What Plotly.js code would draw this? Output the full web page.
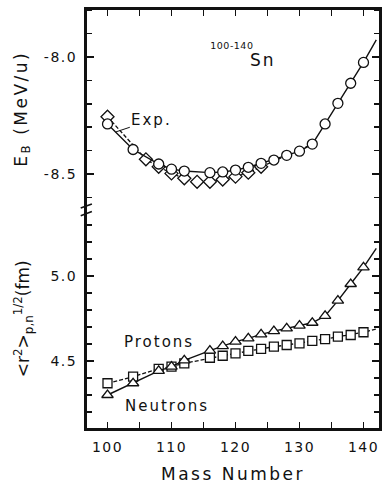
<!DOCTYPE html>
<html>
<head>
<meta charset="utf-8">
<script src="https://cdn.plot.ly/plotly-3.0.1.min.js"></script>
<style>
  html, body { margin: 0; padding: 0; background: #fff; }
  #chart { width: 386px; height: 484px; }
  .xtick text, .ytick text, .y2tick text { letter-spacing: 1.5px; }
  .xtitle, .ytitle { letter-spacing: 2.5px; }
  .annotation-text { letter-spacing: 2px; }
  .annotation[data-index="0"] .annotation-text { letter-spacing: 0.5px; }
</style>
</head>
<body>
<div id="chart"></div>
<script>
// ---- Binding energy per nucleon (top panel) ----
const massTheory = [100,104,108,110,112,116,118,120,122,124,126,128,130,132,134,136,138,140,142];
const ebTheory   = [-8.286,-8.395,-8.457,-8.479,-8.487,-8.494,-8.491,-8.483,-8.471,-8.454,-8.440,-8.420,-8.402,-8.372,-8.286,-8.198,-8.112,-8.023,-7.927];

const massExp = [100,106,108,110,112,114,116,118,120,122,124,126,128,130,132];
const ebExp   = [-8.255,-8.437,-8.469,-8.497,-8.518,-8.533,-8.533,-8.523,-8.511,-8.494,-8.469,-8.443,-8.420,-8.400,-8.370];

// ---- rms radii (bottom panel) ----
const massRadius = [100,104,108,110,112,116,118,120,122,124,126,128,130,132,134,136,138,140,142];
const rNeutrons  = [4.300,4.369,4.442,4.467,4.504,4.561,4.588,4.614,4.633,4.657,4.676,4.692,4.708,4.725,4.765,4.855,4.953,5.051,5.163];
const rProtons   = [4.369,4.408,4.454,4.467,4.486,4.519,4.531,4.545,4.559,4.571,4.584,4.594,4.604,4.618,4.629,4.643,4.653,4.669,4.688];

// ---- axis ticks ----
const xTickVals = [100,110,120,130,140];
const ebTickVals = [-8.5,-8.0];
const ebTickText = ['-8.5','-8.0'];
const rTickVals = [4.5,5.0];
const rTickText = ['4.5','5.0'];

const lastMarked = 140;    // curves continue past the last computed marker
const lastExpMarked = 124; // beyond this the exp. diamonds lie under the circles

const FONT = 'DejaVu Sans, Liberation Sans, sans-serif';
const INK = '#111';

function sizes(xs, limit, s) { return xs.map(v => v <= limit ? s : 0); }

function markerStyle(symbol, xs, limit, s) {
  return {symbol: symbol, size: sizes(xs, limit, s), opacity: 1, color: '#fff',
          line: {color: INK, width: 1.3}};
}

const traces = [
  {
    x: massExp, y: ebExp, xaxis: 'x2', yaxis: 'y', mode: 'lines+markers',
    line: {color: INK, width: 1.3, dash: '4px,2px'},
    marker: markerStyle('diamond', massExp, lastExpMarked, 10),
    hoverinfo: 'skip', showlegend: false
  },
  {
    x: massTheory, y: ebTheory, xaxis: 'x2', yaxis: 'y', mode: 'lines+markers',
    line: {color: INK, width: 1.4},
    marker: markerStyle('circle', massTheory, lastMarked, 10),
    hoverinfo: 'skip', showlegend: false
  },
  {
    x: massRadius, y: rProtons, xaxis: 'x', yaxis: 'y2', mode: 'lines+markers',
    line: {color: INK, width: 1.3, dash: '4px,2px'},
    marker: markerStyle('square', massRadius, lastMarked, 9),
    hoverinfo: 'skip', showlegend: false
  },
  {
    x: massRadius, y: rNeutrons, xaxis: 'x', yaxis: 'y2', mode: 'lines+markers',
    line: {color: INK, width: 1.4},
    marker: markerStyle('triangle-up', massRadius, lastMarked, 10),
    hoverinfo: 'skip', showlegend: false
  }
];

const tickFont = {family: FONT, size: 14, color: INK};

const xCommon = {
  range: [96.64, 142.58],
  tickvals: xTickVals,
  ticks: 'inside', ticklen: 7, tickwidth: 1.6, tickcolor: INK,
  minor: {dtick: 5, tick0: 100, ticks: 'inside', ticklen: 7, tickwidth: 1.6, tickcolor: INK},
  showgrid: false, zeroline: false, showline: true, linewidth: 2, linecolor: INK,
  tickfont: tickFont
};

const yCommon = {
  ticks: 'inside', ticklen: 8, tickwidth: 1.6, tickcolor: INK,
  minor: {dtick: 0.1, ticks: 'inside', ticklen: 6, tickwidth: 1.6, tickcolor: INK},
  showgrid: false, zeroline: false, showline: true, linewidth: 2, linecolor: INK,
  mirror: 'ticks', ticklabelstandoff: 4,
  tickfont: tickFont
};

const titleFont = {family: FONT, size: 17, color: INK};
const labelFont = {family: FONT, size: 15, color: INK};

const layout = {
  width: 386, height: 484,
  margin: {l: 86, r: 6, t: 9, b: 55},
  paper_bgcolor: '#fff', plot_bgcolor: '#fff',
  showlegend: false,
  xaxis: Object.assign({}, xCommon, {
    anchor: 'y2', side: 'bottom', ticklabelstandoff: 4,
    title: {text: 'Mass Number', font: titleFont, standoff: 19}
  }),
  xaxis2: Object.assign({}, xCommon, {anchor: 'y', side: 'top', showticklabels: false}),
  yaxis: Object.assign({}, yCommon, {
    domain: [0.525, 1], anchor: 'x', range: [-8.647, -7.795],
    tickvals: ebTickVals, ticktext: ebTickText,
    minor: Object.assign({}, yCommon.minor, {tick0: -8.0}),
    title: {text: 'E<sub>B</sub> (MeV/u)', font: titleFont, standoff: 12}
  }),
  yaxis2: Object.assign({}, yCommon, {
    domain: [0, 0.525], anchor: 'x', range: [4.1, 5.397],
    tickvals: rTickVals, ticktext: rTickText,
    minor: Object.assign({}, yCommon.minor, {tick0: 4.5}),
    title: {text: '&lt;r<sup>2</sup>&gt;<sub>p,n</sub><sup>1/2</sup>(fm)', font: titleFont, standoff: 16}
  }),
  shapes: [
    {type: 'rect', xref: 'paper', yref: 'paper', x0: 0, x1: 1, y0: 0, y1: 1,
     line: {color: INK, width: 2}, layer: 'above'},
    // axis break marks
    {type: 'line', xref: 'paper', yref: 'paper', x0: -0.018, x1: 0.02, y0: 0.526, y1: 0.536,
     line: {color: INK, width: 1.6}},
    {type: 'line', xref: 'paper', yref: 'paper', x0: -0.018, x1: 0.02, y0: 0.508, y1: 0.518,
     line: {color: INK, width: 1.6}}
  ],
  annotations: [
    {xref: 'x2', yref: 'y', x: 119.4, y: -7.949, text: '100-140', showarrow: false,
     font: {family: FONT, size: 9.5, color: INK}, xanchor: 'center', yanchor: 'middle'},
    {xref: 'x2', yref: 'y', x: 124.3, y: -8.013, text: 'Sn', showarrow: false,
     font: {family: FONT, size: 17, color: INK}, xanchor: 'center', yanchor: 'middle'},
    {xref: 'x2', yref: 'y', x: 101.3, y: -8.32, text: 'Exp.', showarrow: true,
     arrowhead: 0, arrowwidth: 1, arrowcolor: INK, ax: 36, ay: -12, standoff: 0,
     font: labelFont},
    {xref: 'x', yref: 'y2', x: 108.0, y: 4.612, text: 'Protons', showarrow: false,
     font: labelFont, xanchor: 'center', yanchor: 'middle'},
    {xref: 'x', yref: 'y2', x: 109.3, y: 4.235, text: 'Neutrons', showarrow: false,
     font: labelFont, xanchor: 'center', yanchor: 'middle'}
  ]
};

Plotly.newPlot('chart', traces, layout, {displayModeBar: false, staticPlot: true});
</script>
</body>
</html>
